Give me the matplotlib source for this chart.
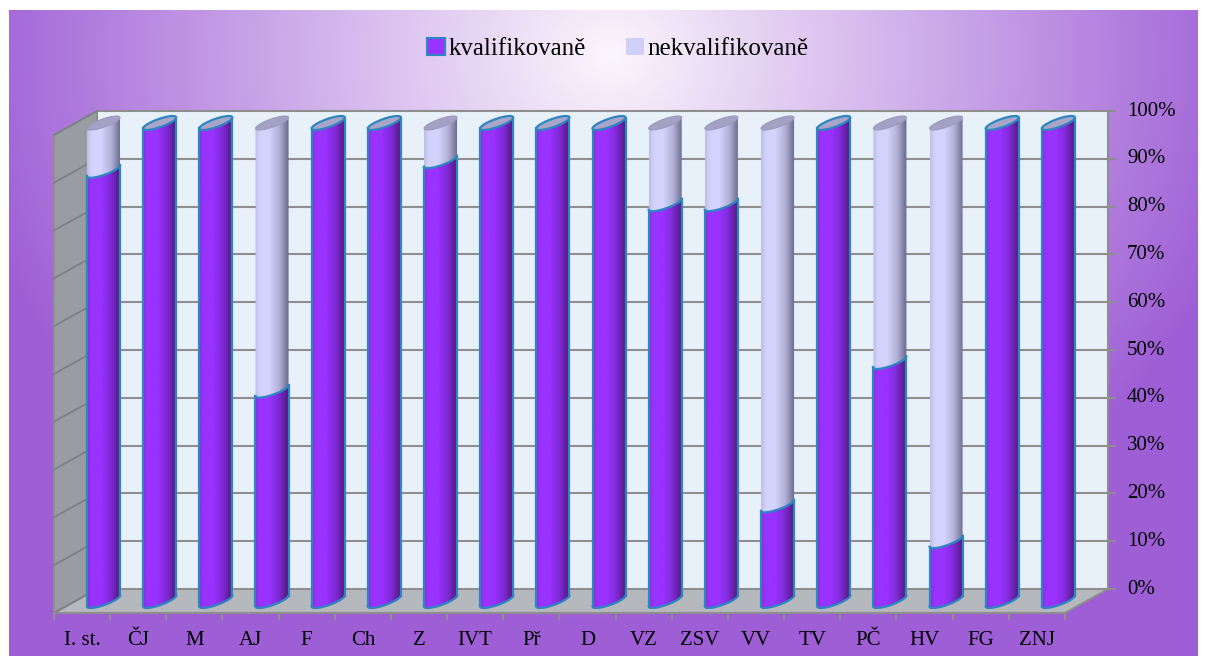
import numpy as np
import matplotlib
matplotlib.use('Agg')
import matplotlib.pyplot as plt
from matplotlib.patches import Polygon, Patch
from matplotlib.colors import LinearSegmentedColormap

plt.rcParams['font.family'] = ['Liberation Serif', 'DejaVu Serif']

# ---- data ----
categories = ['I. st.', 'ČJ', 'M', 'AJ', 'F', 'Ch', 'Z', 'IVT', 'Př', 'D',
              'VZ', 'ZSV', 'VV', 'TV', 'PČ', 'HV', 'FG', 'ZNJ']
kval = [90, 100, 100, 44, 100, 100, 92, 100, 100, 100,
        83, 83, 20, 100, 50, 12.5, 100, 100]
nekval = [10, 0, 0, 56, 0, 0, 8, 0, 0, 0,
          17, 17, 80, 0, 50, 87.5, 0, 0]
yticks = [0, 10, 20, 30, 40, 50, 60, 70, 80, 90, 100]
ytick_labels = ['0%', '10%', '20%', '30%', '40%', '50%',
                '60%', '70%', '80%', '90%', '100%']
legend_labels = ['kvalifikovaně', 'nekvalifikovaně']

W, H = 1207, 665
fig = plt.figure(figsize=(W / 100, H / 100), dpi=100, facecolor='white')

### background panel with radial gradient
bx0, by0, bx1, by1 = 9, 10, 1198, 656
bg = fig.add_axes([bx0 / W, 1 - by1 / H, (bx1 - bx0) / W, (by1 - by0) / H], zorder=0)
yy, xx = np.mgrid[by0:by1, bx0:bx1]
r = np.sqrt(((xx - 610) / 690.) ** 2 + ((yy - 55) / 600.) ** 2)
r = np.clip(r / 0.95, 0, 1)
c0 = np.array([0xFB, 0xF6, 0xFC]) / 255.
c1 = np.array([0x9E, 0x5E, 0xD6]) / 255.
img = c0 + (c1 - c0) * r[..., None]
bg.imshow(img, aspect='auto', interpolation='bilinear')
bg.axis('off')

### main axes, data units: x = category, y = percent
PX0, SX = 103.5, 56.17   # pixel of x=0, pixels per category
PY0, SY = 601.0, 4.78    # pixel (from top) of y=0, pixels per percent
xlim = (-1.4, 18.6)
ylim = (-12, 106)
left = PX0 + SX * xlim[0]
right = PX0 + SX * xlim[1]
bot = PY0 - SY * ylim[0]
top = PY0 - SY * ylim[1]
ax = fig.add_axes([left / W, 1 - bot / H, (right - left) / W, (bot - top) / H], zorder=1)
ax.patch.set_visible(False)

n = len(categories)
DX, DY = 0.383, 2.5
xl_f, xr_f = -0.5 - DX, n - 0.5 - DX
xl_b, xr_b = -0.5 + DX, n - 0.5 + DX
gridc = '#8E8E8E'

# walls and floor
ax.add_patch(Polygon([(xl_b, DY), (xr_b, DY), (xr_b, 100 + DY), (xl_b, 100 + DY)],
                     closed=True, fc='#E8F0FA', ec=gridc, lw=1.4, zorder=1))
ax.add_patch(Polygon([(xl_f, -DY), (xl_b, DY), (xl_b, 100 + DY), (xl_f, 100 - DY)],
                     closed=True, fc='#999CA1', ec=gridc, lw=1.2, zorder=1))
ax.add_patch(Polygon([(xl_f, -DY), (xr_f, -DY), (xr_b, DY), (xl_b, DY)],
                     closed=True, fc='#B5B9BE', ec=gridc, lw=1.4, zorder=1))

for v, lab in zip(yticks, ytick_labels):
    ax.plot([xl_b, xr_b], [v + DY, v + DY], color=gridc, lw=1.5, zorder=1.5)
    ax.plot([xl_f, xl_b], [v - DY, v + DY], color='#7D8085', lw=1.3, zorder=1.5)
    ax.plot([xr_b, xr_b + 0.13], [v + DY, v + DY], color=gridc, lw=1.5, zorder=1.5)
    ax.text(xr_b + 0.34, v + DY, lab, ha='left', va='center', fontsize=15, zorder=5)
ax.plot([xr_b, xr_b], [DY, 100 + DY], color=gridc, lw=1.5, zorder=1.5)

# bottom axis
ax.plot([xl_f, xr_f], [-DY, -DY], color=gridc, lw=1.5, zorder=1.5)
for k in range(n + 1):
    ax.plot([xl_f + k, xl_f + k], [-DY, -DY - 1.3], color=gridc, lw=1.5, zorder=1.5)
for i, cat in enumerate(categories):
    ax.text(i - DX, -8.2, cat, ha='center', va='center', fontsize=15, zorder=5)

### cylinders
RX, UY, VY = 0.294, 1.15, 0.9
edge_blue = '#2E86C1'
cm_purple = LinearSegmentedColormap.from_list(
    'p', [(0, '#8A2BE0'), (0.12, '#9933FF'), (0.4, '#9933FF'),
          (0.7, '#7E2AD6'), (1.0, '#4A1872')])
cm_light = LinearSegmentedColormap.from_list(
    'l', [(0, '#BDBDE6'), (0.15, '#D2D2FC'), (0.4, '#D4D4FF'),
          (0.7, '#B4B4DA'), (1.0, '#66668A')])
grad = np.linspace(0, 1, 256)[None, :]


def curve(cx, y, t0, t1, m=60):
    t = np.linspace(t0, t1, m)
    return np.column_stack([cx + RX * np.cos(t), y + UY * np.cos(t) + VY * np.sin(t)])


def body(cx, y0, y1, cmap):
    pts = np.vstack([curve(cx, y0, np.pi, 2 * np.pi), curve(cx, y1, 2 * np.pi, np.pi)])
    poly = Polygon(pts, closed=True, fc='none', ec='none', zorder=3)
    ax.add_patch(poly)
    im = ax.imshow(grad, cmap=cmap, aspect='auto', interpolation='bilinear',
                   extent=[cx - RX, cx + RX, y0 - 3, y1 + 3], zorder=3)
    im.set_clip_path(poly)


for i, (kv, nk) in enumerate(zip(kval, nekval)):
    cx = i
    total = kv + nk
    if kv > 0:
        body(cx, 0, kv, cm_purple)
        bc = curve(cx, 0, np.pi, 2 * np.pi)
        ax.plot(bc[:, 0], bc[:, 1], color=edge_blue, lw=1.6, zorder=4)
        ax.plot([cx - RX, cx - RX], [-UY, kv - UY], color=edge_blue, lw=1.6, zorder=4)
        ax.plot([cx + RX, cx + RX], [UY, kv + UY], color=edge_blue, lw=1.6, zorder=4)
    if nk > 0:
        body(cx, kv, total, cm_light)
        fc = curve(cx, kv, np.pi, 2 * np.pi)
        ax.plot(fc[:, 0], fc[:, 1], color=edge_blue, lw=1.6, zorder=4)
        ell = curve(cx, total, 0, 2 * np.pi, 100)
        ax.add_patch(Polygon(ell, closed=True, fc='#A4A2C4', ec='#9C9ABD', lw=0.8, zorder=4))
    else:
        ell = curve(cx, total, 0, 2 * np.pi, 100)
        ax.add_patch(Polygon(ell, closed=True, fc='#A9A5C9', ec=edge_blue, lw=1.6, zorder=4))

ax.set_xlim(*xlim)
ax.set_ylim(*ylim)
ax.axis('off')

### legend
handles = [Patch(facecolor='#9933FF', edgecolor=edge_blue, lw=1.5),
           Patch(facecolor='#CFCFFA', edgecolor='none')]
fig.legend(handles, legend_labels, loc='center', bbox_to_anchor=(618 / W, 1 - 49 / H),
           ncol=2, frameon=False, fontsize=18, handlelength=0.7, handleheight=0.7,
           handletextpad=0.15, columnspacing=1.6)

fig.savefig('out.png', dpi=100, facecolor='white')
